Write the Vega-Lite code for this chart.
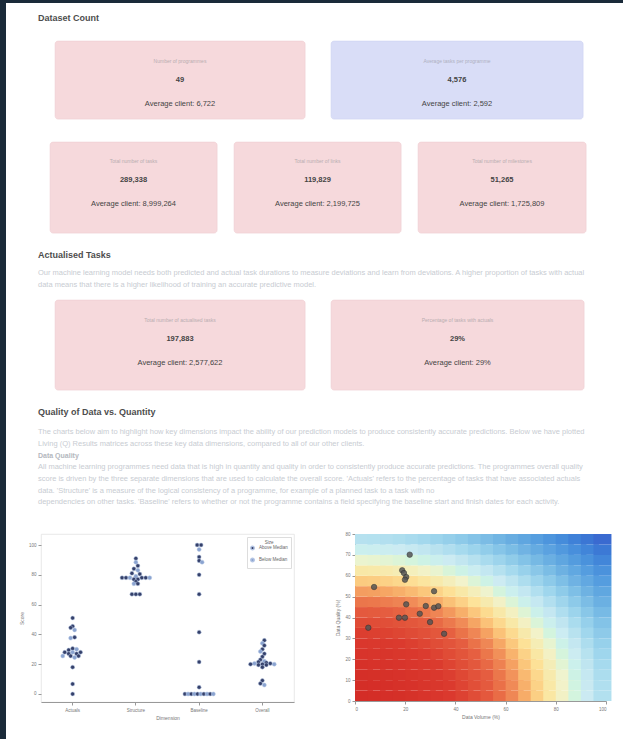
{
  "$schema": "https://vega.github.io/schema/vega-lite/v6.json",
  "background": "white",
  "padding": 0,
  "spacing": 0,
  "config": {
    "font": "Liberation Sans Narrow, Liberation Sans, Arial, sans-serif",
    "concat": {"spacing": 0},
    "axis": {"labelFontSize": 4.5, "labelColor": "#777", "titleFontSize": 5, "titleColor": "#777", "titleFontWeight": "normal", "tickColor": "#999", "domainColor": "#999", "tickSize": 3, "grid": false, "labelPadding": 2, "titlePadding": 4}
  },
  "datasets": {
    "cards": [
      {"card": "c1", "section": "s", "label": "Number of programmes", "value": "49", "avg": "Average client: 6,722"},
      {"card": "c2", "section": "s", "label": "Average tasks per programme", "value": "4,576", "avg": "Average client: 2,592"},
      {"card": "c3", "section": "s", "label": "Total number of tasks", "value": "289,338", "avg": "Average client: 8,999,264"},
      {"card": "c4", "section": "s", "label": "Total number of links", "value": "119,829", "avg": "Average client: 2,199,725"},
      {"card": "c5", "section": "s", "label": "Total number of milestones", "value": "51,265", "avg": "Average client: 1,725,809"},
      {"card": "c6", "section": "s", "label": "Total number of actualised tasks", "value": "197,883", "avg": "Average client: 2,577,622"},
      {"card": "c7", "section": "s", "label": "Percentage of tasks with actuals", "value": "29%", "avg": "Average client: 29%"}
    ],
    "swarm": [
      {"d": "Actuals", "s": 51, "k": 0, "g": "Above Median"},
      {"d": "Actuals", "s": 45.5, "k": 0, "g": "Above Median"},
      {"d": "Actuals", "s": 44.5, "k": -1, "g": "Above Median"},
      {"d": "Actuals", "s": 43, "k": 1, "g": "Below Median"},
      {"d": "Actuals", "s": 38, "k": 1, "g": "Above Median"},
      {"d": "Actuals", "s": 37.5, "k": -1, "g": "Below Median"},
      {"d": "Actuals", "s": 30.5, "k": 0, "g": "Above Median"},
      {"d": "Actuals", "s": 30, "k": 2, "g": "Below Median"},
      {"d": "Actuals", "s": 29.5, "k": -2, "g": "Above Median"},
      {"d": "Actuals", "s": 28, "k": -4, "g": "Above Median"},
      {"d": "Actuals", "s": 28, "k": 0, "g": "Below Median"},
      {"d": "Actuals", "s": 28, "k": 4, "g": "Above Median"},
      {"d": "Actuals", "s": 27, "k": -2, "g": "Above Median"},
      {"d": "Actuals", "s": 27, "k": 2, "g": "Above Median"},
      {"d": "Actuals", "s": 25.5, "k": -5, "g": "Below Median"},
      {"d": "Actuals", "s": 25.5, "k": -1, "g": "Above Median"},
      {"d": "Actuals", "s": 25.5, "k": 3, "g": "Above Median"},
      {"d": "Actuals", "s": 24.5, "k": 1, "g": "Below Median"},
      {"d": "Actuals", "s": 18, "k": 0, "g": "Above Median"},
      {"d": "Actuals", "s": 6.7, "k": 0, "g": "Above Median"},
      {"d": "Actuals", "s": 0, "k": 0, "g": "Above Median"},
      {"d": "Structure", "s": 91, "k": 0, "g": "Above Median"},
      {"d": "Structure", "s": 88.5, "k": 0, "g": "Below Median"},
      {"d": "Structure", "s": 86, "k": 1, "g": "Above Median"},
      {"d": "Structure", "s": 84, "k": -1, "g": "Above Median"},
      {"d": "Structure", "s": 83, "k": 1, "g": "Below Median"},
      {"d": "Structure", "s": 81, "k": -2, "g": "Above Median"},
      {"d": "Structure", "s": 80.5, "k": 2, "g": "Above Median"},
      {"d": "Structure", "s": 79, "k": 0, "g": "Below Median"},
      {"d": "Structure", "s": 78, "k": -7, "g": "Above Median"},
      {"d": "Structure", "s": 78, "k": -5, "g": "Above Median"},
      {"d": "Structure", "s": 78, "k": -3, "g": "Below Median"},
      {"d": "Structure", "s": 78, "k": 3, "g": "Above Median"},
      {"d": "Structure", "s": 78, "k": 5, "g": "Above Median"},
      {"d": "Structure", "s": 78, "k": 7, "g": "Below Median"},
      {"d": "Structure", "s": 77, "k": -1, "g": "Above Median"},
      {"d": "Structure", "s": 77, "k": 1, "g": "Above Median"},
      {"d": "Structure", "s": 75.5, "k": 0, "g": "Above Median"},
      {"d": "Structure", "s": 74, "k": -1, "g": "Below Median"},
      {"d": "Structure", "s": 74, "k": 1, "g": "Above Median"},
      {"d": "Structure", "s": 67, "k": -2, "g": "Above Median"},
      {"d": "Structure", "s": 67, "k": 0, "g": "Above Median"},
      {"d": "Structure", "s": 67, "k": 2, "g": "Above Median"},
      {"d": "Baseline", "s": 100, "k": -1, "g": "Above Median"},
      {"d": "Baseline", "s": 100, "k": 1, "g": "Above Median"},
      {"d": "Baseline", "s": 97, "k": 0, "g": "Below Median"},
      {"d": "Baseline", "s": 92, "k": 0, "g": "Above Median"},
      {"d": "Baseline", "s": 89.5, "k": 0, "g": "Above Median"},
      {"d": "Baseline", "s": 88.5, "k": 1.5, "g": "Below Median"},
      {"d": "Baseline", "s": 80, "k": 0, "g": "Above Median"},
      {"d": "Baseline", "s": 67, "k": 0, "g": "Above Median"},
      {"d": "Baseline", "s": 41.5, "k": 0, "g": "Above Median"},
      {"d": "Baseline", "s": 21.5, "k": 0, "g": "Above Median"},
      {"d": "Baseline", "s": 4.5, "k": 0, "g": "Above Median"},
      {"d": "Baseline", "s": 0, "k": -7.2, "g": "Above Median"},
      {"d": "Baseline", "s": 0, "k": -5.6, "g": "Below Median"},
      {"d": "Baseline", "s": 0, "k": -4, "g": "Above Median"},
      {"d": "Baseline", "s": 0, "k": -2.4, "g": "Below Median"},
      {"d": "Baseline", "s": 0, "k": -0.8, "g": "Above Median"},
      {"d": "Baseline", "s": 0, "k": 0.8, "g": "Below Median"},
      {"d": "Baseline", "s": 0, "k": 2.4, "g": "Above Median"},
      {"d": "Baseline", "s": 0, "k": 4, "g": "Below Median"},
      {"d": "Baseline", "s": 0, "k": 5.6, "g": "Above Median"},
      {"d": "Baseline", "s": 0, "k": 7.2, "g": "Below Median"},
      {"d": "Overall", "s": 36, "k": 1, "g": "Above Median"},
      {"d": "Overall", "s": 34, "k": 0, "g": "Below Median"},
      {"d": "Overall", "s": 32.5, "k": 1, "g": "Above Median"},
      {"d": "Overall", "s": 30, "k": 0, "g": "Above Median"},
      {"d": "Overall", "s": 28.5, "k": -1, "g": "Below Median"},
      {"d": "Overall", "s": 27, "k": 1, "g": "Above Median"},
      {"d": "Overall", "s": 25, "k": 0, "g": "Above Median"},
      {"d": "Overall", "s": 23, "k": -1, "g": "Above Median"},
      {"d": "Overall", "s": 22, "k": 1, "g": "Below Median"},
      {"d": "Overall", "s": 21.5, "k": -2, "g": "Above Median"},
      {"d": "Overall", "s": 21, "k": 2, "g": "Above Median"},
      {"d": "Overall", "s": 20.5, "k": -4, "g": "Below Median"},
      {"d": "Overall", "s": 20.5, "k": 4, "g": "Above Median"},
      {"d": "Overall", "s": 20, "k": -6, "g": "Above Median"},
      {"d": "Overall", "s": 20, "k": 0, "g": "Above Median"},
      {"d": "Overall", "s": 20, "k": 6, "g": "Below Median"},
      {"d": "Overall", "s": 19.5, "k": -2, "g": "Above Median"},
      {"d": "Overall", "s": 19.5, "k": 2, "g": "Above Median"},
      {"d": "Overall", "s": 18, "k": 0, "g": "Above Median"},
      {"d": "Overall", "s": 9, "k": 0, "g": "Above Median"},
      {"d": "Overall", "s": 7, "k": -1, "g": "Above Median"},
      {"d": "Overall", "s": 6, "k": 1, "g": "Below Median"}
    ],
    "bubbles": [
      {"vol": 21.8, "qual": 70.1}, {"vol": 18.8, "qual": 62.6}, {"vol": 19.5, "qual": 61.3},
      {"vol": 20.4, "qual": 59.4}, {"vol": 19.9, "qual": 58.1}, {"vol": 7.6, "qual": 54.6},
      {"vol": 31.5, "qual": 52.6}, {"vol": 20.4, "qual": 46.3}, {"vol": 28.2, "qual": 45.5},
      {"vol": 31.5, "qual": 44.7}, {"vol": 33.2, "qual": 45.4}, {"vol": 25.8, "qual": 41.8},
      {"vol": 17.5, "qual": 39.9}, {"vol": 19.9, "qual": 39.9}, {"vol": 29.9, "qual": 37.8},
      {"vol": 5.3, "qual": 35.1}, {"vol": 35.5, "qual": 32.2}
    ],
    "heat": [
      {"x":2.5,"y":2.5,"v":0.002},{"x":7.5,"y":2.5,"v":0.007},{"x":12.5,"y":2.5,"v":0.017},{"x":17.5,"y":2.5,"v":0.032},{"x":22.5,"y":2.5,"v":0.052},{"x":27.5,"y":2.5,"v":0.077},{"x":32.5,"y":2.5,"v":0.107},{"x":37.5,"y":2.5,"v":0.142},{"x":42.5,"y":2.5,"v":0.182},{"x":47.5,"y":2.5,"v":0.227},{"x":52.5,"y":2.5,"v":0.277},{"x":57.5,"y":2.5,"v":0.332},{"x":62.5,"y":2.5,"v":0.392},{"x":67.5,"y":2.5,"v":0.457},{"x":72.5,"y":2.5,"v":0.527},{"x":77.5,"y":2.5,"v":0.602},{"x":82.5,"y":2.5,"v":0.682},{"x":87.5,"y":2.5,"v":0.767},{"x":92.5,"y":2.5,"v":0.857},{"x":97.5,"y":2.5,"v":0.952},
      {"x":2.5,"y":7.5,"v":0.010},{"x":7.5,"y":7.5,"v":0.015},{"x":12.5,"y":7.5,"v":0.025},{"x":17.5,"y":7.5,"v":0.040},{"x":22.5,"y":7.5,"v":0.060},{"x":27.5,"y":7.5,"v":0.085},{"x":32.5,"y":7.5,"v":0.115},{"x":37.5,"y":7.5,"v":0.150},{"x":42.5,"y":7.5,"v":0.190},{"x":47.5,"y":7.5,"v":0.235},{"x":52.5,"y":7.5,"v":0.285},{"x":57.5,"y":7.5,"v":0.340},{"x":62.5,"y":7.5,"v":0.400},{"x":67.5,"y":7.5,"v":0.465},{"x":72.5,"y":7.5,"v":0.535},{"x":77.5,"y":7.5,"v":0.610},{"x":82.5,"y":7.5,"v":0.690},{"x":87.5,"y":7.5,"v":0.775},{"x":92.5,"y":7.5,"v":0.865},{"x":97.5,"y":7.5,"v":0.960},
      {"x":2.5,"y":12.5,"v":0.025},{"x":7.5,"y":12.5,"v":0.030},{"x":12.5,"y":12.5,"v":0.040},{"x":17.5,"y":12.5,"v":0.055},{"x":22.5,"y":12.5,"v":0.075},{"x":27.5,"y":12.5,"v":0.100},{"x":32.5,"y":12.5,"v":0.130},{"x":37.5,"y":12.5,"v":0.165},{"x":42.5,"y":12.5,"v":0.205},{"x":47.5,"y":12.5,"v":0.250},{"x":52.5,"y":12.5,"v":0.300},{"x":57.5,"y":12.5,"v":0.355},{"x":62.5,"y":12.5,"v":0.415},{"x":67.5,"y":12.5,"v":0.480},{"x":72.5,"y":12.5,"v":0.550},{"x":77.5,"y":12.5,"v":0.625},{"x":82.5,"y":12.5,"v":0.705},{"x":87.5,"y":12.5,"v":0.790},{"x":92.5,"y":12.5,"v":0.880},{"x":97.5,"y":12.5,"v":0.975},
      {"x":2.5,"y":17.5,"v":0.049},{"x":7.5,"y":17.5,"v":0.054},{"x":12.5,"y":17.5,"v":0.064},{"x":17.5,"y":17.5,"v":0.079},{"x":22.5,"y":17.5,"v":0.099},{"x":27.5,"y":17.5,"v":0.124},{"x":32.5,"y":17.5,"v":0.154},{"x":37.5,"y":17.5,"v":0.189},{"x":42.5,"y":17.5,"v":0.229},{"x":47.5,"y":17.5,"v":0.274},{"x":52.5,"y":17.5,"v":0.324},{"x":57.5,"y":17.5,"v":0.379},{"x":62.5,"y":17.5,"v":0.439},{"x":67.5,"y":17.5,"v":0.504},{"x":72.5,"y":17.5,"v":0.574},{"x":77.5,"y":17.5,"v":0.649},{"x":82.5,"y":17.5,"v":0.729},{"x":87.5,"y":17.5,"v":0.814},{"x":92.5,"y":17.5,"v":0.904},{"x":97.5,"y":17.5,"v":0.999},
      {"x":2.5,"y":22.5,"v":0.080},{"x":7.5,"y":22.5,"v":0.085},{"x":12.5,"y":22.5,"v":0.095},{"x":17.5,"y":22.5,"v":0.110},{"x":22.5,"y":22.5,"v":0.130},{"x":27.5,"y":22.5,"v":0.155},{"x":32.5,"y":22.5,"v":0.185},{"x":37.5,"y":22.5,"v":0.220},{"x":42.5,"y":22.5,"v":0.260},{"x":47.5,"y":22.5,"v":0.305},{"x":52.5,"y":22.5,"v":0.355},{"x":57.5,"y":22.5,"v":0.410},{"x":62.5,"y":22.5,"v":0.470},{"x":67.5,"y":22.5,"v":0.535},{"x":72.5,"y":22.5,"v":0.605},{"x":77.5,"y":22.5,"v":0.680},{"x":82.5,"y":22.5,"v":0.760},{"x":87.5,"y":22.5,"v":0.845},{"x":92.5,"y":22.5,"v":0.935},{"x":97.5,"y":22.5,"v":1.030},
      {"x":2.5,"y":27.5,"v":0.119},{"x":7.5,"y":27.5,"v":0.124},{"x":12.5,"y":27.5,"v":0.134},{"x":17.5,"y":27.5,"v":0.149},{"x":22.5,"y":27.5,"v":0.169},{"x":27.5,"y":27.5,"v":0.194},{"x":32.5,"y":27.5,"v":0.224},{"x":37.5,"y":27.5,"v":0.259},{"x":42.5,"y":27.5,"v":0.299},{"x":47.5,"y":27.5,"v":0.344},{"x":52.5,"y":27.5,"v":0.394},{"x":57.5,"y":27.5,"v":0.449},{"x":62.5,"y":27.5,"v":0.509},{"x":67.5,"y":27.5,"v":0.574},{"x":72.5,"y":27.5,"v":0.644},{"x":77.5,"y":27.5,"v":0.719},{"x":82.5,"y":27.5,"v":0.799},{"x":87.5,"y":27.5,"v":0.884},{"x":92.5,"y":27.5,"v":0.974},{"x":97.5,"y":27.5,"v":1.069},
      {"x":2.5,"y":32.5,"v":0.166},{"x":7.5,"y":32.5,"v":0.171},{"x":12.5,"y":32.5,"v":0.181},{"x":17.5,"y":32.5,"v":0.196},{"x":22.5,"y":32.5,"v":0.216},{"x":27.5,"y":32.5,"v":0.241},{"x":32.5,"y":32.5,"v":0.271},{"x":37.5,"y":32.5,"v":0.306},{"x":42.5,"y":32.5,"v":0.346},{"x":47.5,"y":32.5,"v":0.391},{"x":52.5,"y":32.5,"v":0.441},{"x":57.5,"y":32.5,"v":0.496},{"x":62.5,"y":32.5,"v":0.556},{"x":67.5,"y":32.5,"v":0.621},{"x":72.5,"y":32.5,"v":0.691},{"x":77.5,"y":32.5,"v":0.766},{"x":82.5,"y":32.5,"v":0.846},{"x":87.5,"y":32.5,"v":0.931},{"x":92.5,"y":32.5,"v":1.021},{"x":97.5,"y":32.5,"v":1.116},
      {"x":2.5,"y":37.5,"v":0.221},{"x":7.5,"y":37.5,"v":0.226},{"x":12.5,"y":37.5,"v":0.236},{"x":17.5,"y":37.5,"v":0.251},{"x":22.5,"y":37.5,"v":0.271},{"x":27.5,"y":37.5,"v":0.296},{"x":32.5,"y":37.5,"v":0.326},{"x":37.5,"y":37.5,"v":0.361},{"x":42.5,"y":37.5,"v":0.401},{"x":47.5,"y":37.5,"v":0.446},{"x":52.5,"y":37.5,"v":0.496},{"x":57.5,"y":37.5,"v":0.551},{"x":62.5,"y":37.5,"v":0.611},{"x":67.5,"y":37.5,"v":0.676},{"x":72.5,"y":37.5,"v":0.746},{"x":77.5,"y":37.5,"v":0.821},{"x":82.5,"y":37.5,"v":0.901},{"x":87.5,"y":37.5,"v":0.986},{"x":92.5,"y":37.5,"v":1.076},{"x":97.5,"y":37.5,"v":1.171},
      {"x":2.5,"y":42.5,"v":0.283},{"x":7.5,"y":42.5,"v":0.288},{"x":12.5,"y":42.5,"v":0.298},{"x":17.5,"y":42.5,"v":0.313},{"x":22.5,"y":42.5,"v":0.333},{"x":27.5,"y":42.5,"v":0.358},{"x":32.5,"y":42.5,"v":0.388},{"x":37.5,"y":42.5,"v":0.423},{"x":42.5,"y":42.5,"v":0.463},{"x":47.5,"y":42.5,"v":0.508},{"x":52.5,"y":42.5,"v":0.558},{"x":57.5,"y":42.5,"v":0.613},{"x":62.5,"y":42.5,"v":0.673},{"x":67.5,"y":42.5,"v":0.738},{"x":72.5,"y":42.5,"v":0.808},{"x":77.5,"y":42.5,"v":0.883},{"x":82.5,"y":42.5,"v":0.963},{"x":87.5,"y":42.5,"v":1.048},{"x":92.5,"y":42.5,"v":1.138},{"x":97.5,"y":42.5,"v":1.233},
      {"x":2.5,"y":47.5,"v":0.354},{"x":7.5,"y":47.5,"v":0.359},{"x":12.5,"y":47.5,"v":0.369},{"x":17.5,"y":47.5,"v":0.384},{"x":22.5,"y":47.5,"v":0.404},{"x":27.5,"y":47.5,"v":0.429},{"x":32.5,"y":47.5,"v":0.459},{"x":37.5,"y":47.5,"v":0.494},{"x":42.5,"y":47.5,"v":0.534},{"x":47.5,"y":47.5,"v":0.579},{"x":52.5,"y":47.5,"v":0.629},{"x":57.5,"y":47.5,"v":0.684},{"x":62.5,"y":47.5,"v":0.744},{"x":67.5,"y":47.5,"v":0.809},{"x":72.5,"y":47.5,"v":0.879},{"x":77.5,"y":47.5,"v":0.954},{"x":82.5,"y":47.5,"v":1.034},{"x":87.5,"y":47.5,"v":1.119},{"x":92.5,"y":47.5,"v":1.209},{"x":97.5,"y":47.5,"v":1.304},
      {"x":2.5,"y":52.5,"v":0.432},{"x":7.5,"y":52.5,"v":0.437},{"x":12.5,"y":52.5,"v":0.447},{"x":17.5,"y":52.5,"v":0.462},{"x":22.5,"y":52.5,"v":0.482},{"x":27.5,"y":52.5,"v":0.507},{"x":32.5,"y":52.5,"v":0.537},{"x":37.5,"y":52.5,"v":0.572},{"x":42.5,"y":52.5,"v":0.612},{"x":47.5,"y":52.5,"v":0.657},{"x":52.5,"y":52.5,"v":0.707},{"x":57.5,"y":52.5,"v":0.762},{"x":62.5,"y":52.5,"v":0.822},{"x":67.5,"y":52.5,"v":0.887},{"x":72.5,"y":52.5,"v":0.957},{"x":77.5,"y":52.5,"v":1.032},{"x":82.5,"y":52.5,"v":1.112},{"x":87.5,"y":52.5,"v":1.197},{"x":92.5,"y":52.5,"v":1.287},{"x":97.5,"y":52.5,"v":1.382},
      {"x":2.5,"y":57.5,"v":0.518},{"x":7.5,"y":57.5,"v":0.523},{"x":12.5,"y":57.5,"v":0.533},{"x":17.5,"y":57.5,"v":0.548},{"x":22.5,"y":57.5,"v":0.568},{"x":27.5,"y":57.5,"v":0.593},{"x":32.5,"y":57.5,"v":0.623},{"x":37.5,"y":57.5,"v":0.658},{"x":42.5,"y":57.5,"v":0.698},{"x":47.5,"y":57.5,"v":0.743},{"x":52.5,"y":57.5,"v":0.793},{"x":57.5,"y":57.5,"v":0.848},{"x":62.5,"y":57.5,"v":0.908},{"x":67.5,"y":57.5,"v":0.973},{"x":72.5,"y":57.5,"v":1.043},{"x":77.5,"y":57.5,"v":1.118},{"x":82.5,"y":57.5,"v":1.198},{"x":87.5,"y":57.5,"v":1.283},{"x":92.5,"y":57.5,"v":1.373},{"x":97.5,"y":57.5,"v":1.468},
      {"x":2.5,"y":62.5,"v":0.611},{"x":7.5,"y":62.5,"v":0.616},{"x":12.5,"y":62.5,"v":0.626},{"x":17.5,"y":62.5,"v":0.641},{"x":22.5,"y":62.5,"v":0.661},{"x":27.5,"y":62.5,"v":0.686},{"x":32.5,"y":62.5,"v":0.716},{"x":37.5,"y":62.5,"v":0.751},{"x":42.5,"y":62.5,"v":0.791},{"x":47.5,"y":62.5,"v":0.836},{"x":52.5,"y":62.5,"v":0.886},{"x":57.5,"y":62.5,"v":0.941},{"x":62.5,"y":62.5,"v":1.001},{"x":67.5,"y":62.5,"v":1.066},{"x":72.5,"y":62.5,"v":1.136},{"x":77.5,"y":62.5,"v":1.211},{"x":82.5,"y":62.5,"v":1.291},{"x":87.5,"y":62.5,"v":1.376},{"x":92.5,"y":62.5,"v":1.466},{"x":97.5,"y":62.5,"v":1.561},
      {"x":2.5,"y":67.5,"v":0.713},{"x":7.5,"y":67.5,"v":0.718},{"x":12.5,"y":67.5,"v":0.728},{"x":17.5,"y":67.5,"v":0.743},{"x":22.5,"y":67.5,"v":0.763},{"x":27.5,"y":67.5,"v":0.788},{"x":32.5,"y":67.5,"v":0.818},{"x":37.5,"y":67.5,"v":0.853},{"x":42.5,"y":67.5,"v":0.893},{"x":47.5,"y":67.5,"v":0.938},{"x":52.5,"y":67.5,"v":0.988},{"x":57.5,"y":67.5,"v":1.043},{"x":62.5,"y":67.5,"v":1.103},{"x":67.5,"y":67.5,"v":1.168},{"x":72.5,"y":67.5,"v":1.238},{"x":77.5,"y":67.5,"v":1.313},{"x":82.5,"y":67.5,"v":1.393},{"x":87.5,"y":67.5,"v":1.478},{"x":92.5,"y":67.5,"v":1.568},{"x":97.5,"y":67.5,"v":1.663},
      {"x":2.5,"y":72.5,"v":0.822},{"x":7.5,"y":72.5,"v":0.827},{"x":12.5,"y":72.5,"v":0.837},{"x":17.5,"y":72.5,"v":0.852},{"x":22.5,"y":72.5,"v":0.872},{"x":27.5,"y":72.5,"v":0.897},{"x":32.5,"y":72.5,"v":0.927},{"x":37.5,"y":72.5,"v":0.962},{"x":42.5,"y":72.5,"v":1.002},{"x":47.5,"y":72.5,"v":1.047},{"x":52.5,"y":72.5,"v":1.097},{"x":57.5,"y":72.5,"v":1.152},{"x":62.5,"y":72.5,"v":1.212},{"x":67.5,"y":72.5,"v":1.277},{"x":72.5,"y":72.5,"v":1.347},{"x":77.5,"y":72.5,"v":1.422},{"x":82.5,"y":72.5,"v":1.502},{"x":87.5,"y":72.5,"v":1.587},{"x":92.5,"y":72.5,"v":1.677},{"x":97.5,"y":72.5,"v":1.772},
      {"x":2.5,"y":77.5,"v":0.939},{"x":7.5,"y":77.5,"v":0.944},{"x":12.5,"y":77.5,"v":0.954},{"x":17.5,"y":77.5,"v":0.969},{"x":22.5,"y":77.5,"v":0.989},{"x":27.5,"y":77.5,"v":1.014},{"x":32.5,"y":77.5,"v":1.044},{"x":37.5,"y":77.5,"v":1.079},{"x":42.5,"y":77.5,"v":1.119},{"x":47.5,"y":77.5,"v":1.164},{"x":52.5,"y":77.5,"v":1.214},{"x":57.5,"y":77.5,"v":1.269},{"x":62.5,"y":77.5,"v":1.329},{"x":67.5,"y":77.5,"v":1.394},{"x":72.5,"y":77.5,"v":1.464},{"x":77.5,"y":77.5,"v":1.539},{"x":82.5,"y":77.5,"v":1.619},{"x":87.5,"y":77.5,"v":1.704},{"x":92.5,"y":77.5,"v":1.794},{"x":97.5,"y":77.5,"v":1.889}
    ]
  },
  "hconcat": [
    {"width": 6, "height": 739, "data": {"values": [{}]}, "mark": {"type": "text", "text": "", "fontSize": 0}, "encoding": {}, "view": {"fill": "#1a2a39", "stroke": null}},
    {
      "spacing": 0,
      "vconcat": [
        {"width": 617, "height": 3, "data": {"values": [{}]}, "mark": {"type": "text", "text": "", "fontSize": 0}, "encoding": {}, "view": {"fill": "#1a2a39", "stroke": null}},
        {"width": 617, "height": 11, "data": {"values": [{}]}, "mark": {"type": "text", "text": "", "fontSize": 0}, "encoding": {}, "view": {"stroke": null}},
        {
          "width": 617, "height": 12,
          "title": {"text": "Dataset Count", "anchor": "start", "frame": "group", "dx": 32, "offset": 5, "fontSize": 9, "fontWeight": "bold", "color": "#4d4d4d"},
          "data": {"values": [{}]}, "mark": {"type": "text", "text": "", "fontSize": 0}, "encoding": {}, "view": {"stroke": null}
        },
        {
          "spacing": 0,
          "hconcat": [
            {"width": 48, "height": 1, "data": {"values": [{}]}, "mark": {"type": "text", "text": "", "fontSize": 0}, "encoding": {}, "view": {"stroke": null}},
            {"width": 250, "height": 78, "data": {"name": "cards"}, "transform": [{"filter": "datum.card === 'c1'"}],
             "view": {"fill": "#f6d9dc", "stroke": "#efcdd1", "strokeWidth": 0.6, "cornerRadius": 3},
             "encoding": {"x": {"field": "card", "type": "nominal", "axis": null, "scale": {"type": "band", "paddingInner": 0, "paddingOuter": 0}}},
             "layer": [
               {"mark": {"type": "text", "fontSize": 5, "color": "#b8adb0", "baseline": "middle"}, "encoding": {"y": {"field": "section", "type": "nominal", "axis": null, "scale": {"type": "band", "paddingInner": 0, "paddingOuter": 0}, "bandPosition": 0.256}, "text": {"field": "label"}}},
               {"mark": {"type": "text", "fontSize": 7.5, "fontWeight": "bold", "color": "#444", "baseline": "middle"}, "encoding": {"y": {"field": "section", "type": "nominal", "axis": null, "scale": {"type": "band", "paddingInner": 0, "paddingOuter": 0}, "bandPosition": 0.5}, "text": {"field": "value"}}},
               {"mark": {"type": "text", "fontSize": 7.5, "color": "#444", "baseline": "middle"}, "encoding": {"y": {"field": "section", "type": "nominal", "axis": null, "scale": {"type": "band", "paddingInner": 0, "paddingOuter": 0}, "bandPosition": 0.81}, "text": {"field": "avg"}}}
             ]},
            {"width": 24, "height": 1, "data": {"values": [{}]}, "mark": {"type": "text", "text": "", "fontSize": 0}, "encoding": {}, "view": {"stroke": null}},
            {"width": 252, "height": 78, "data": {"name": "cards"}, "transform": [{"filter": "datum.card === 'c2'"}],
             "view": {"fill": "#d9ddf7", "stroke": "#cdd2f0", "strokeWidth": 0.6, "cornerRadius": 3},
             "encoding": {"x": {"field": "card", "type": "nominal", "axis": null, "scale": {"type": "band", "paddingInner": 0, "paddingOuter": 0}}},
             "layer": [
               {"mark": {"type": "text", "fontSize": 5, "color": "#aeb0c0", "baseline": "middle"}, "encoding": {"y": {"field": "section", "type": "nominal", "axis": null, "scale": {"type": "band", "paddingInner": 0, "paddingOuter": 0}, "bandPosition": 0.256}, "text": {"field": "label"}}},
               {"mark": {"type": "text", "fontSize": 7.5, "fontWeight": "bold", "color": "#444", "baseline": "middle"}, "encoding": {"y": {"field": "section", "type": "nominal", "axis": null, "scale": {"type": "band", "paddingInner": 0, "paddingOuter": 0}, "bandPosition": 0.5}, "text": {"field": "value"}}},
               {"mark": {"type": "text", "fontSize": 7.5, "color": "#444", "baseline": "middle"}, "encoding": {"y": {"field": "section", "type": "nominal", "axis": null, "scale": {"type": "band", "paddingInner": 0, "paddingOuter": 0}, "bandPosition": 0.81}, "text": {"field": "avg"}}}
             ]}
          ]
        },
        {"width": 617, "height": 21, "data": {"values": [{}]}, "mark": {"type": "text", "text": "", "fontSize": 0}, "encoding": {}, "view": {"stroke": null}},
        {
          "spacing": 0,
          "hconcat": [
            {"width": 42.5, "height": 1, "data": {"values": [{}]}, "mark": {"type": "text", "text": "", "fontSize": 0}, "encoding": {}, "view": {"stroke": null}},
            {"width": 167, "height": 91, "data": {"name": "cards"}, "transform": [{"filter": "datum.card === 'c3'"}],
             "view": {"fill": "#f6d9dc", "stroke": "#efcdd1", "strokeWidth": 0.6, "cornerRadius": 3},
             "encoding": {"x": {"field": "card", "type": "nominal", "axis": null, "scale": {"type": "band", "paddingInner": 0, "paddingOuter": 0}}},
             "layer": [
               {"mark": {"type": "text", "fontSize": 5, "color": "#b8adb0", "baseline": "middle"}, "encoding": {"y": {"field": "section", "type": "nominal", "axis": null, "scale": {"type": "band", "paddingInner": 0, "paddingOuter": 0}, "bandPosition": 0.21}, "text": {"field": "label"}}},
               {"mark": {"type": "text", "fontSize": 7.5, "fontWeight": "bold", "color": "#444", "baseline": "middle"}, "encoding": {"y": {"field": "section", "type": "nominal", "axis": null, "scale": {"type": "band", "paddingInner": 0, "paddingOuter": 0}, "bandPosition": 0.42}, "text": {"field": "value"}}},
               {"mark": {"type": "text", "fontSize": 7.5, "color": "#444", "baseline": "middle"}, "encoding": {"y": {"field": "section", "type": "nominal", "axis": null, "scale": {"type": "band", "paddingInner": 0, "paddingOuter": 0}, "bandPosition": 0.68}, "text": {"field": "avg"}}}
             ]},
            {"width": 15, "height": 1, "data": {"values": [{}]}, "mark": {"type": "text", "text": "", "fontSize": 0}, "encoding": {}, "view": {"stroke": null}},
            {"width": 167, "height": 91, "data": {"name": "cards"}, "transform": [{"filter": "datum.card === 'c4'"}],
             "view": {"fill": "#f6d9dc", "stroke": "#efcdd1", "strokeWidth": 0.6, "cornerRadius": 3},
             "encoding": {"x": {"field": "card", "type": "nominal", "axis": null, "scale": {"type": "band", "paddingInner": 0, "paddingOuter": 0}}},
             "layer": [
               {"mark": {"type": "text", "fontSize": 5, "color": "#b8adb0", "baseline": "middle"}, "encoding": {"y": {"field": "section", "type": "nominal", "axis": null, "scale": {"type": "band", "paddingInner": 0, "paddingOuter": 0}, "bandPosition": 0.21}, "text": {"field": "label"}}},
               {"mark": {"type": "text", "fontSize": 7.5, "fontWeight": "bold", "color": "#444", "baseline": "middle"}, "encoding": {"y": {"field": "section", "type": "nominal", "axis": null, "scale": {"type": "band", "paddingInner": 0, "paddingOuter": 0}, "bandPosition": 0.42}, "text": {"field": "value"}}},
               {"mark": {"type": "text", "fontSize": 7.5, "color": "#444", "baseline": "middle"}, "encoding": {"y": {"field": "section", "type": "nominal", "axis": null, "scale": {"type": "band", "paddingInner": 0, "paddingOuter": 0}, "bandPosition": 0.68}, "text": {"field": "avg"}}}
             ]},
            {"width": 15, "height": 1, "data": {"values": [{}]}, "mark": {"type": "text", "text": "", "fontSize": 0}, "encoding": {}, "view": {"stroke": null}},
            {"width": 168, "height": 91, "data": {"name": "cards"}, "transform": [{"filter": "datum.card === 'c5'"}],
             "view": {"fill": "#f6d9dc", "stroke": "#efcdd1", "strokeWidth": 0.6, "cornerRadius": 3},
             "encoding": {"x": {"field": "card", "type": "nominal", "axis": null, "scale": {"type": "band", "paddingInner": 0, "paddingOuter": 0}}},
             "layer": [
               {"mark": {"type": "text", "fontSize": 5, "color": "#b8adb0", "baseline": "middle"}, "encoding": {"y": {"field": "section", "type": "nominal", "axis": null, "scale": {"type": "band", "paddingInner": 0, "paddingOuter": 0}, "bandPosition": 0.21}, "text": {"field": "label"}}},
               {"mark": {"type": "text", "fontSize": 7.5, "fontWeight": "bold", "color": "#444", "baseline": "middle"}, "encoding": {"y": {"field": "section", "type": "nominal", "axis": null, "scale": {"type": "band", "paddingInner": 0, "paddingOuter": 0}, "bandPosition": 0.42}, "text": {"field": "value"}}},
               {"mark": {"type": "text", "fontSize": 7.5, "color": "#444", "baseline": "middle"}, "encoding": {"y": {"field": "section", "type": "nominal", "axis": null, "scale": {"type": "band", "paddingInner": 0, "paddingOuter": 0}, "bandPosition": 0.68}, "text": {"field": "avg"}}}
             ]}
          ]
        },
        {"width": 617, "height": 15.5, "data": {"values": [{}]}, "mark": {"type": "text", "text": "", "fontSize": 0}, "encoding": {}, "view": {"stroke": null}},
        {
          "width": 617, "height": 7,
          "title": {"text": "Actualised Tasks", "anchor": "start", "frame": "group", "dx": 32, "offset": 4, "fontSize": 9, "fontWeight": "bold", "color": "#4d4d4d",
                    "subtitle": ["Our machine learning model needs both predicted and actual task durations to measure deviations and learn from deviations. A higher proportion of tasks with actual", "data means that there is a higher likelihood of training an accurate predictive model."],
                    "subtitleFontSize": 7.5, "subtitleColor": "#c8ccd2", "subtitlePadding": 9, "subtitleLineHeight": 12},
          "data": {"values": [{}]}, "mark": {"type": "text", "text": "", "fontSize": 0}, "encoding": {}, "view": {"stroke": null}
        },
        {
          "spacing": 0,
          "hconcat": [
            {"width": 48, "height": 1, "data": {"values": [{}]}, "mark": {"type": "text", "text": "", "fontSize": 0}, "encoding": {}, "view": {"stroke": null}},
            {"width": 250, "height": 90, "data": {"name": "cards"}, "transform": [{"filter": "datum.card === 'c6'"}],
             "view": {"fill": "#f6d9dc", "stroke": "#efcdd1", "strokeWidth": 0.6, "cornerRadius": 3},
             "encoding": {"x": {"field": "card", "type": "nominal", "axis": null, "scale": {"type": "band", "paddingInner": 0, "paddingOuter": 0}}},
             "layer": [
               {"mark": {"type": "text", "fontSize": 5, "color": "#b8adb0", "baseline": "middle"}, "encoding": {"y": {"field": "section", "type": "nominal", "axis": null, "scale": {"type": "band", "paddingInner": 0, "paddingOuter": 0}, "bandPosition": 0.222}, "text": {"field": "label"}}},
               {"mark": {"type": "text", "fontSize": 7.5, "fontWeight": "bold", "color": "#444", "baseline": "middle"}, "encoding": {"y": {"field": "section", "type": "nominal", "axis": null, "scale": {"type": "band", "paddingInner": 0, "paddingOuter": 0}, "bandPosition": 0.433}, "text": {"field": "value"}}},
               {"mark": {"type": "text", "fontSize": 7.5, "color": "#444", "baseline": "middle"}, "encoding": {"y": {"field": "section", "type": "nominal", "axis": null, "scale": {"type": "band", "paddingInner": 0, "paddingOuter": 0}, "bandPosition": 0.7}, "text": {"field": "avg"}}}
             ]},
            {"width": 24, "height": 1, "data": {"values": [{}]}, "mark": {"type": "text", "text": "", "fontSize": 0}, "encoding": {}, "view": {"stroke": null}},
            {"width": 253, "height": 90, "data": {"name": "cards"}, "transform": [{"filter": "datum.card === 'c7'"}],
             "view": {"fill": "#f6d9dc", "stroke": "#efcdd1", "strokeWidth": 0.6, "cornerRadius": 3},
             "encoding": {"x": {"field": "card", "type": "nominal", "axis": null, "scale": {"type": "band", "paddingInner": 0, "paddingOuter": 0}}},
             "layer": [
               {"mark": {"type": "text", "fontSize": 5, "color": "#b8adb0", "baseline": "middle"}, "encoding": {"y": {"field": "section", "type": "nominal", "axis": null, "scale": {"type": "band", "paddingInner": 0, "paddingOuter": 0}, "bandPosition": 0.222}, "text": {"field": "label"}}},
               {"mark": {"type": "text", "fontSize": 7.5, "fontWeight": "bold", "color": "#444", "baseline": "middle"}, "encoding": {"y": {"field": "section", "type": "nominal", "axis": null, "scale": {"type": "band", "paddingInner": 0, "paddingOuter": 0}, "bandPosition": 0.433}, "text": {"field": "value"}}},
               {"mark": {"type": "text", "fontSize": 7.5, "color": "#444", "baseline": "middle"}, "encoding": {"y": {"field": "section", "type": "nominal", "axis": null, "scale": {"type": "band", "paddingInner": 0, "paddingOuter": 0}, "bandPosition": 0.7}, "text": {"field": "avg"}}}
             ]}
          ]
        },
        {"width": 617, "height": 15.5, "data": {"values": [{}]}, "mark": {"type": "text", "text": "", "fontSize": 0}, "encoding": {}, "view": {"stroke": null}},
        {
          "width": 617, "height": 1,
          "title": {"text": "Quality of Data vs. Quantity", "anchor": "start", "frame": "group", "dx": 32, "offset": 4, "fontSize": 9, "fontWeight": "bold", "color": "#4d4d4d",
                    "subtitle": ["The charts below aim to highlight how key dimensions impact the ability of our prediction models to produce consistently accurate predictions. Below we have plotted", "Living (Q) Results matrices across these key data dimensions, compared to all of our other clients."],
                    "subtitleFontSize": 7.5, "subtitleColor": "#c8ccd2", "subtitlePadding": 11, "subtitleLineHeight": 12},
          "data": {"values": [{}]}, "mark": {"type": "text", "text": "", "fontSize": 0}, "encoding": {}, "view": {"stroke": null}
        },
        {
          "width": 617, "height": 24,
          "title": {"text": "Data Quality", "anchor": "start", "frame": "group", "dx": 32, "offset": 1, "fontSize": 7, "fontWeight": "bold", "color": "#b4b8be",
                    "subtitle": ["All machine learning programmes need data that is high in quantity and quality in order to consistently produce accurate predictions. The programmes overall quality", "score is driven by the three separate dimensions that are used to calculate the overall score. 'Actuals' refers to the percentage of tasks that have associated actuals", "data. 'Structure' is a measure of the logical consistency of a programme, for example of a planned task to a task with no", "dependencies on other tasks. 'Baseline' refers to whether or not the programme contains a field specifying the baseline start and finish dates for each activity."],
                    "subtitleFontSize": 7.5, "subtitleColor": "#c8ccd2", "subtitlePadding": 4, "subtitleLineHeight": 11.7},
          "data": {"values": [{}]}, "mark": {"type": "text", "text": "", "fontSize": 0}, "encoding": {}, "view": {"stroke": null}
        },
        {
          "spacing": 0,
          "resolve": {"scale": {"color": "independent"}},
          "hconcat": [
            {"width": 13, "height": 1, "data": {"values": [{}]}, "mark": {"type": "text", "text": "", "fontSize": 0}, "encoding": {}, "view": {"stroke": null}},
            {
              "width": 253, "height": 168,
              "data": {"name": "swarm"},
              "view": {"stroke": "#e3e3e3", "strokeWidth": 0.8},
              "mark": {"type": "circle", "size": 16, "opacity": 1, "stroke": "#b3c4e3", "strokeWidth": 0.5},
              "encoding": {
                "x": {"field": "d", "type": "nominal", "sort": ["Actuals", "Structure", "Baseline", "Overall"], "scale": {"paddingInner": 0, "paddingOuter": 0}, "axis": {"title": "Dimension", "labelAngle": 0, "ticks": true}},
                "xOffset": {"field": "k", "type": "quantitative", "scale": {"domain": [-16, 16]}},
                "y": {"field": "s", "type": "quantitative", "scale": {"domain": [-5.4, 107.4], "nice": false, "zero": false}, "axis": {"title": "Score", "values": [0, 20, 40, 60, 80, 100], "domain": false}},
                "color": {"field": "g", "type": "nominal", "scale": {"domain": ["Above Median", "Below Median"], "range": ["#35406a", "#8aa3d0"]},
                          "legend": {"title": "Size", "orient": "top-right", "offset": 3, "titleFontSize": 4.5, "titleFontWeight": "normal", "titleColor": "#666", "titleAnchor": "middle", "labelFontSize": 4.5, "labelColor": "#666", "symbolSize": 12, "fillColor": "white", "strokeColor": "#dddddd", "padding": 3, "rowPadding": 1, "titlePadding": 1}}
              }
            },
            {"width": 40, "height": 1, "data": {"values": [{}]}, "mark": {"type": "text", "text": "", "fontSize": 0}, "encoding": {}, "view": {"stroke": null}},
            {
              "width": 251, "height": 167,
              "view": {"stroke": null},
              "resolve": {"scale": {"x": "independent", "y": "independent"}},
              "layer": [
                {"data": {"name": "heat"}, "mark": {"type": "rect"},
                 "encoding": {
                   "x": {"field": "x", "type": "ordinal", "axis": null, "scale": {"paddingInner": 0, "paddingOuter": 0}},
                   "y": {"field": "y", "type": "ordinal", "axis": null, "sort": "descending", "scale": {"paddingInner": 0, "paddingOuter": 0}},
                   "color": {"field": "v", "type": "quantitative", "legend": null,
                             "scale": {"domain": [0, 0.15, 0.3, 0.4, 0.5, 0.58, 0.7, 0.85, 1.0, 1.3, 1.9],
                                       "range": ["#d42d27", "#db3a2e", "#e55d40", "#f08a57", "#fbc47a", "#fde39a", "#f2f3cd", "#cdebf2", "#a6daee", "#6cb0e2", "#3a69cf"]}}
                 }},
                {"data": {"name": "bubbles"}, "mark": {"type": "circle", "size": 30, "color": "#555", "opacity": 0.85, "stroke": "#2a2a2a", "strokeWidth": 0.6},
                 "encoding": {
                   "x": {"field": "vol", "type": "quantitative", "scale": {"domain": [0, 100], "nice": false}, "axis": {"orient": "bottom", "title": "Data Volume (%)", "values": [0, 20, 40, 60, 80, 100]}},
                   "y": {"field": "qual", "type": "quantitative", "scale": {"domain": [0, 80], "nice": false}, "axis": {"orient": "left", "title": "Data Quality (%)", "values": [0, 10, 20, 30, 40, 50, 60, 70, 80]}}
                 }}
              ]
            }
          ]
        }
      ]
    }
  ]
}
